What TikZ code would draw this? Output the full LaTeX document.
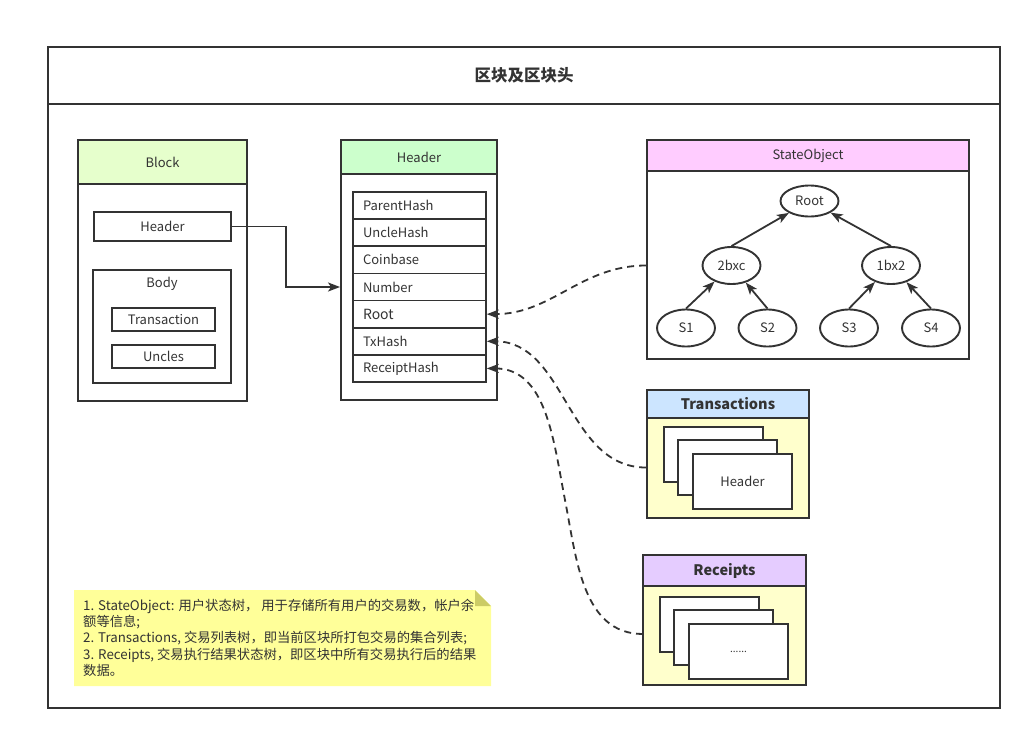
\documentclass[tikz,border=0pt]{standalone}
\usepackage{fontspec}
\setmainfont{Noto Sans CJK SC}
\usetikzlibrary{arrows.meta,shapes.geometric,calc}
\definecolor{ink}{HTML}{333333}
\definecolor{blockband}{HTML}{E6FFCC}
\definecolor{hdrband}{HTML}{CCFFCC}
\definecolor{soband}{HTML}{FFCCFF}
\definecolor{txband}{HTML}{CCE5FF}
\definecolor{rcband}{HTML}{E5CCFF}
\definecolor{paleyellow}{HTML}{FFFFCC}
\definecolor{notefill}{HTML}{FFFF99}
\definecolor{notefold}{HTML}{CCCC66}
\begin{document}
\begin{tikzpicture}[x=1pt,y=1pt,
  every node/.style={text=ink, font=\fontsize{13}{15}\selectfont, inner sep=0pt},
  box/.style={draw=ink, line width=1.9pt, rectangle},
  fieldbox/.style={box, line width=1.6pt, minimum height=27.14pt, text width=113pt, inner xsep=10pt, align=left},
  card/.style={box, fill=white, minimum width=99pt, minimum height=55pt},
  tnode/.style={draw=ink, line width=1.9pt, ellipse, minimum width=58pt, minimum height=37pt},
  arr/.style={draw=ink, line width=1.8pt, -{Stealth[length=12pt,width=9pt,inset=3pt]}},
  darr/.style={arr, dash pattern=on 7pt off 5pt},
  boldlbl/.style={font=\fontsize{14.5}{17}\selectfont\bfseries}
]
\useasboundingbox (0,0) rectangle (1033,-739);

% outer frame and title
\node[box, line width=2.2pt, minimum width=952pt, minimum height=661pt] (frame) at (524,-377.5) {};
\node[box, line width=2.2pt, minimum width=952pt, minimum height=57pt,
      font=\fontsize{16.5}{19}\selectfont\bfseries] (title) at (524,-75.5) {区块及区块头};

% Block
\node[box, minimum width=169pt, minimum height=261pt] (block) at (162.5,-270.5) {};
\node[box, fill=blockband, minimum width=169pt, minimum height=44pt] (blockband) at (162.5,-162) {Block};
\node[box, minimum width=137pt, minimum height=29pt] (bh) at (162.5,-226.5) {Header};
\node[box, minimum width=138pt, minimum height=113pt] (body) at (162,-326.5) {};
\node (bodylbl) at (162,-284) {Body};
\node[box, minimum width=103pt, minimum height=23pt] (tr) at (163.5,-319.5) {Transaction};
\node[box, minimum width=103pt, minimum height=23pt] (un) at (163.5,-356.5) {Uncles};

% Header
\node[box, minimum width=156pt, minimum height=260pt] (hdr) at (419,-270) {};
\node[box, fill=hdrband, minimum width=156pt, minimum height=34pt] (hdrband) at (419,-157) {Header};
\node[fieldbox] (f1) at (419.5,-205.57) {ParentHash};
\node[fieldbox] (f2) at (419.5,-232.71) {UncleHash};
\node[fieldbox] (f3) at (419.5,-259.86) {Coinbase};
\node[fieldbox] (f4) at (419.5,-287.00) {Number};
\node[fieldbox, font=\fontsize{14}{16}\selectfont] (f5) at (419.5,-314.14) {Root};
\node[fieldbox] (f6) at (419.5,-341.29) {TxHash};
\node[fieldbox] (f7) at (419.5,-368.43) {ReceiptHash};

% StateObject
\node[box, minimum width=322pt, minimum height=219pt] (so) at (808,-249.5) {};
\node[box, fill=soband, minimum width=322pt, minimum height=31pt] (soband) at (808,-155.5) {StateObject};
\node[tnode, minimum height=31pt] (root) at (809.5,-201) {Root};
\node[tnode] (n2bxc) at (731.5,-265.5) {2bxc};
\node[tnode] (n1bx2) at (891,-265.5) {1bx2};
\node[tnode] (s1) at (686,-328) {S1};
\node[tnode] (s2) at (767.5,-328) {S2};
\node[tnode] (s3) at (849,-328) {S3};
\node[tnode] (s4) at (931,-328) {S4};
\draw[arr] (n2bxc.north) -- (root);
\draw[arr] (n1bx2.north) -- (root);
\draw[arr] (s1.north) -- (n2bxc);
\draw[arr] (s2.north) -- (n2bxc);
\draw[arr] (s3.north) -- (n1bx2);
\draw[arr] (s4.north) -- (n1bx2);

% Transactions
\node[box, fill=paleyellow, minimum width=162pt, minimum height=128pt] (tx) at (728,-454) {};
\node[box, fill=txband, minimum width=162pt, minimum height=28pt, boldlbl] (txband) at (728,-404) {Transactions};
\node[card] (tc1) at (713.5,-454.5) {};
\node[card] (tc2) at (727.5,-467.5) {};
\node[card] (tc3) at (742.5,-481.5) {Header};

% Receipts
\node[box, fill=paleyellow, minimum width=163pt, minimum height=130pt] (rc) at (724.5,-620) {};
\node[box, fill=rcband, minimum width=163pt, minimum height=31pt, boldlbl] (rcband) at (724.5,-570.5) {Receipts};
\node[card] (rc1) at (709.5,-624.5) {};
\node[card] (rc2) at (723.5,-637.5) {};
\node[card, font=\fontsize{10}{12}\selectfont] (rc3) at (738.5,-651.5) {......};

% note
\fill[notefill] (74,-590) -- (475,-590) -- (491,-606) -- (491,-686) -- (74,-686) -- cycle;
\fill[notefold] (475,-590) -- (491,-606) -- (475,-606) -- cycle;
\node[anchor=north west, align=left, font=\fontsize{13.3}{16.2}\selectfont] (note) at (83,-599)
 {1. StateObject: 用户状态树， 用于存储所有用户的交易数，帐户余\\
  额等信息;\\
  2. Transactions, 交易列表树，即当前区块所打包交易的集合列表;\\
  3. Receipts, 交易执行结果状态树，即区块中所有交易执行后的结果\\
  数据。};

% connectors
\draw[arr] (bh.east) -- ++(54,0) |- (hdr.west |- f4.center);
\draw[darr] (so.west |- n2bxc.center) to[out=180,in=0] (f5.east);
\draw[darr] (tx.west |- tc2.center) to[out=180,in=0] (f6.east);
\coordinate (rcin) at (643,-634);
\coordinate (rmid) at (565,-500);
\draw[darr] (rcin) to[out=180,in=-79] (rmid) to[out=101,in=0] (f7.east);
\end{tikzpicture}
\end{document}
